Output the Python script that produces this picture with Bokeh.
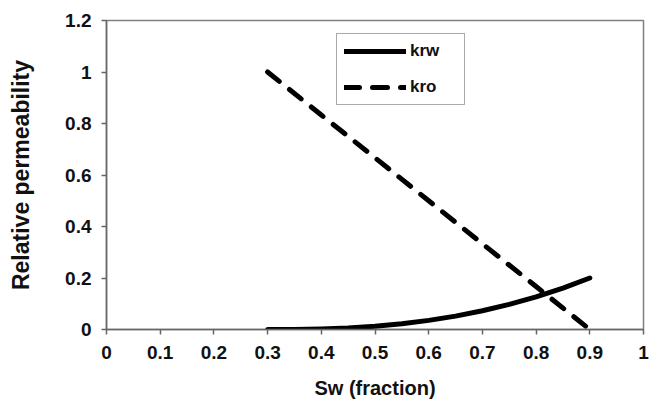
from bokeh.plotting import figure
from bokeh.models import FixedTicker, Legend, LegendItem, Range1d
from bokeh.embed import file_html
from bokeh.resources import INLINE

sw_w = [0.30, 0.35, 0.40, 0.45, 0.50, 0.55, 0.60, 0.65, 0.70, 0.75, 0.80, 0.85, 0.90]
krw = [0.0, 0.0004, 0.0023, 0.0063, 0.0128, 0.0224, 0.0354, 0.052, 0.0726, 0.0974, 0.127, 0.161, 0.2]
sw_o = [0.3, 0.4, 0.5, 0.6, 0.7, 0.8, 0.9]
kro = [1.0, 0.833, 0.667, 0.5, 0.333, 0.167, 0.0]

x_ticks = [0, 0.1, 0.2, 0.3, 0.4, 0.5, 0.6, 0.7, 0.8, 0.9, 1]
x_labels = ["0", "0.1", "0.2", "0.3", "0.4", "0.5", "0.6", "0.7", "0.8", "0.9", "1"]
y_ticks = [0, 0.2, 0.4, 0.6, 0.8, 1, 1.2]
y_labels = ["0", "0.2", "0.4", "0.6", "0.8", "1", "1.2"]

FONT = "Liberation Sans"

p = figure(width=649, height=401, output_backend="svg", toolbar_location=None,
           x_range=Range1d(0, 1), y_range=Range1d(0, 1.2),
           min_border_left=106, min_border_right=6, min_border_top=20, min_border_bottom=71)
p.grid.visible = False
p.outline_line_color = "#808080"
p.outline_line_width = 1.5

for ax, ticks, labels in ((p.xaxis[0], x_ticks, x_labels), (p.yaxis[0], y_ticks, y_labels)):
    ax.ticker = FixedTicker(ticks=ticks)
    ax.major_label_overrides = dict(zip(ticks, labels))
    ax.minor_tick_line_color = None
    ax.major_tick_in = 0
    ax.major_tick_out = 5
    ax.axis_line_color = "#666666"
    ax.axis_line_width = 1.5
    ax.major_tick_line_color = "#666666"
    ax.major_tick_line_width = 1.5
    ax.major_label_text_font = FONT
    ax.major_label_text_font_style = "bold"
    ax.major_label_text_font_size = "19px"
    ax.major_label_text_color = "#111111"
    ax.axis_label_text_font = FONT
    ax.axis_label_text_font_style = "bold"
    ax.axis_label_text_color = "#111111"

p.xaxis.axis_label = "Sw (fraction)"
p.xaxis.axis_label_text_font_size = "20px"
p.xaxis.major_label_standoff = 11
p.xaxis.axis_label_standoff = 15
p.yaxis.axis_label = "Relative permeability"
p.yaxis.axis_label_text_font_size = "23px"
p.yaxis.major_label_standoff = 10
p.yaxis.axis_label_standoff = 28

r_w = p.line(sw_w, krw, line_color="black", line_width=5, line_cap="round", line_join="round")
r_o = p.line(sw_o, kro, line_color="black", line_width=5, line_cap="round", line_dash="15 13")

legend = Legend(items=[LegendItem(label="krw", renderers=[r_w]),
                       LegendItem(label="kro", renderers=[r_o])],
                location=(230, 224))
legend.glyph_width = 62
legend.glyph_height = 20
legend.label_height = 20
legend.spacing = 16
legend.padding = 7
legend.label_standoff = 4
legend.label_width = 47
legend.label_text_font = FONT
legend.label_text_font_style = "bold"
legend.label_text_font_size = "17px"
legend.label_text_color = "#111111"
legend.border_line_color = "#555555"
legend.border_line_width = 1.2
legend.background_fill_alpha = 0
legend.margin = 0
p.add_layout(legend)

open("out.html", "w").write(file_html(p, INLINE))
